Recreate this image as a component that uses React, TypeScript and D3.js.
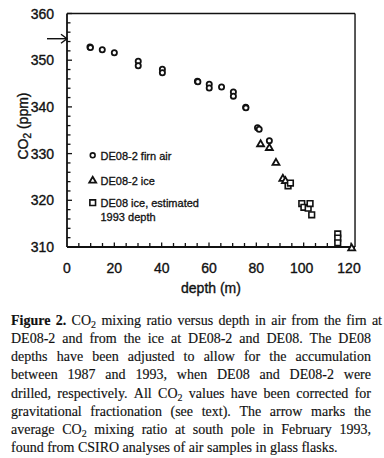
import React, { useMemo } from "react";
import * as d3 from "d3";

// ---- data ----
const firnDepth = [9.7, 9.9, 14.9, 20.0, 30.1, 30.1, 40.3, 40.3, 55.1, 55.3, 60.1, 60.1, 65.3, 70.3, 70.3, 75.5, 75.6, 80.5, 81.2, 85.5];
const firnCO2 = [352.8, 352.7, 352.25, 351.6, 349.8, 348.8, 348.05, 347.3, 345.5, 345.4, 344.85, 344.05, 344.25, 343.2, 342.3, 339.9, 339.8, 335.55, 335.2, 332.75];
const iceDepth = [81.8, 85.5, 88.3, 91.2, 92.3, 120.3];
const iceCO2 = [332.0, 331.2, 328.0, 324.6, 324.1, 309.7];
const de08Depth = [93.4, 94.4, 99.2, 100.1, 101.9, 102.7, 103.4, 114.4, 114.4, 114.4];
const de08CO2 = [323.1, 323.7, 319.3, 318.5, 318.3, 319.3, 316.9, 312.8, 311.9, 310.9];
const arrowCO2 = 354.6;
const xTickLabels = [0, 20, 40, 60, 80, 100, 120];
const yTickLabels = [310, 320, 330, 340, 350, 360];
const legendLabels = ["DE08-2 firn air", "DE08-2 ice", "DE08 ice, estimated", "1993 depth"];
const captionLines = [
  "Figure 2. CO2 mixing ratio versus depth in air from the firn at",
  "DE08-2 and from the ice at DE08-2 and DE08. The DE08",
  "depths have been adjusted to allow for the accumulation",
  "between 1987 and 1993, when DE08 and DE08-2 were",
  "drilled, respectively. All CO2 values have been corrected for",
  "gravitational fractionation (see text). The arrow marks the",
  "average CO2 mixing ratio at south pole in February 1993,",
  "found from CSIRO analyses of air samples in glass flasks.",
];

const SANS = "'Liberation Sans', Arial, Helvetica, sans-serif";
const SERIF = "'Liberation Serif', 'Times New Roman', serif";

function Caption() {
  const layout = useMemo(() => {
    const ctx = document.createElement("canvas").getContext("2d")!;
    const meas = (t: string, font: string) => {
      ctx.font = font;
      return ctx.measureText(t).width;
    };
    const base = `14px ${SERIF}`;
    const bold = `bold 14px ${SERIF}`;
    const sub = `10px ${SERIF}`;
    const left = 11;
    return captionLines.map((line, li) => {
      const words = line.split(" ");
      const right = li === 0 ? 382 : 371;
      const info = words.map((wd, wi) => {
        const isBold = li === 0 && wi < 2;
        const isCO2 = wd === "CO2";
        const width = isCO2 ? meas("CO", base) + meas("2", sub) : meas(wd, isBold ? bold : base);
        return { wd, isBold, isCO2, width };
      });
      const total = d3.sum(info, (d) => d.width);
      const last = li === captionLines.length - 1;
      const gap = last ? meas(" ", base) : (right - left - total) / (words.length - 1);
      let x = left;
      return info.map((d) => {
        const r = { ...d, x };
        x += d.width + gap;
        return r;
      });
    });
  }, []);
  return (
    <g>
      {layout.map((line, li) => {
        const yb = 324.7 + li * 18.25;
        return line.map((d, wi) => (
          <text key={`${li}-${wi}`} x={d.x} y={yb} fontFamily={SERIF} fontSize={14} fontWeight={d.isBold ? "bold" : "normal"} fill="#111" stroke="#111" strokeWidth={0.15}>
            {d.isCO2 ? (
              <>
                CO<tspan dy={3} fontSize={10}>2</tspan>
              </>
            ) : (
              d.wd
            )}
          </text>
        ));
      })}
    </g>
  );
}

export default function App() {
  const x = d3.scaleLinear().domain([0, 120]).range([67, 351]);
  const y = d3.scaleLinear().domain([310, 360]).range([247, 13.5]);
  const x0 = x(0);
  const xR = x(121.7);
  const yB = y(310);
  const yT = y(360);
  const tri = d3.symbol().type(d3.symbolTriangle).size(21)()!;
  const sq = d3.symbol().type(d3.symbolSquare).size(32)()!;
  const legendX = 92.7;
  const legendTextX = 100.5;

  return (
    <svg width={384} height={458} style={{ position: "absolute", left: 0, top: 0, background: "#fff" }}>
      <rect x={0} y={0} width={384} height={458} fill="#fff" />
      {/* frame */}
      <g stroke="#111" fill="none">
        <line x1={x0} x2={xR} y1={yT} y2={yT} strokeWidth={1.6} />
        <line x1={xR} x2={xR} y1={yT} y2={yB} strokeWidth={1.4} />
        <line x1={x0} x2={x0} y1={yT} y2={yB} strokeWidth={1.8} />
        <line x1={x0} x2={xR} y1={yB} y2={yB} strokeWidth={1.8} />
      </g>
      {/* ticks */}
      <g stroke="#111" strokeWidth={1.3}>
        {d3.range(310, 360.01, 2).map((v) => (
          <line key={v} x1={x0} x2={x0 + (v % 10 === 0 ? 5 : 3.5)} y1={y(v)} y2={y(v)} />
        ))}
        {d3.range(5, 120.01, 5).map((v) => (
          <line key={"x" + v} x1={x(v)} x2={x(v)} y1={yB} y2={yB - (v % 20 === 0 ? 4.5 : 4)} />
        ))}
      </g>
      {/* tick labels */}
      <g fontFamily={SANS} fontSize={14} fill="#111" stroke="#111" strokeWidth={0.35}>
        {yTickLabels.map((v) => (
          <text key={v} x={54} y={y(v) + 5} textAnchor="end">
            {v}
          </text>
        ))}
        {xTickLabels.map((v) => (
          <text key={v} x={x(v) - (v >= 100 ? 2 : 0)} y={273.3} textAnchor="middle">
            {v}
          </text>
        ))}
        <text x={211} y={293} textAnchor="middle">
          depth (m)
        </text>
        <text transform="translate(28,126) rotate(-90)" textAnchor="middle">
          CO<tspan dy={3} fontSize={10}>2</tspan>
          <tspan dy={-3}> (ppm)</tspan>
        </text>
      </g>
      {/* arrow */}
      <g stroke="#111" strokeWidth={1.4} fill="none">
        <line x1={47} x2={x0} y1={y(arrowCO2)} y2={y(arrowCO2)} />
        <path d={`M${x0 - 6},${y(arrowCO2) - 4.5} L${x0},${y(arrowCO2)} L${x0 - 6},${y(arrowCO2) + 4.5}`} />
      </g>
      {/* data */}
      <g stroke="#111" fill="#fff">
        {firnDepth.map((d, i) => (
          <circle key={"f" + i} cx={x(d)} cy={y(firnCO2[i])} r={2.6} strokeWidth={1.8} />
        ))}
        {iceDepth.map((d, i) => (
          <path key={"t" + i} d={tri} transform={`translate(${x(d)},${y(iceCO2[i])})`} strokeWidth={1.8} />
        ))}
        {de08Depth.map((d, i) => (
          <path key={"s" + i} d={sq} transform={`translate(${x(d)},${y(de08CO2[i])})`} strokeWidth={1.6} />
        ))}
      </g>
      {/* legend */}
      <g stroke="#111" fill="#fff">
        <circle cx={legendX} cy={155.3} r={2.4} strokeWidth={1.6} />
        <path d={tri} transform={`translate(${legendX},${180.7})`} strokeWidth={1.8} />
        <path d={sq} transform={`translate(${legendX},${202.7})`} strokeWidth={1.6} />
      </g>
      <g fontFamily={SANS} fontSize={11} fill="#111" stroke="#111" strokeWidth={0.3}>
        <text x={legendTextX} y={159.5}>{legendLabels[0]}</text>
        <text x={legendTextX} y={184.8}>{legendLabels[1]}</text>
        <text x={legendTextX} y={206.8}>{legendLabels[2]}</text>
        <text x={legendTextX} y={220.5}>{legendLabels[3]}</text>
      </g>
      <Caption />
    </svg>
  );
}
